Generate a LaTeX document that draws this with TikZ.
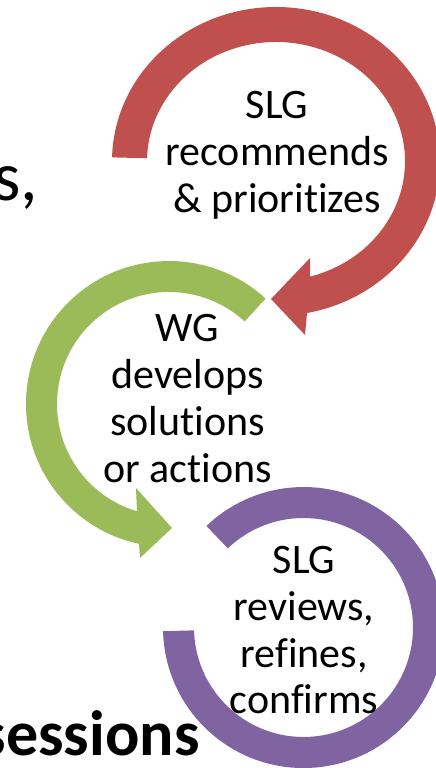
\documentclass[tikz,border=0pt]{standalone}
\usepackage{fontspec}
\setmainfont{Carlito}[Ligatures={NoCommon}]
\definecolor{arcred}{HTML}{C0504D}
\definecolor{arcgreen}{HTML}{9BBB59}
\definecolor{arcpurple}{HTML}{8064A2}
\begin{document}
\begin{tikzpicture}[x=1pt,y=1pt,
  lbl/.style={font=\fontsize{42}{47}\selectfont, inner sep=0pt, anchor=base},
  bgtext/.style={font=\fontsize{70}{80}\selectfont, inner sep=0pt, anchor=base west},
  bgbold/.style={font=\bfseries\fontsize{64}{72}\selectfont, inner sep=0pt, anchor=base west}]
\useasboundingbox (0,0) rectangle (436,-768);
\clip (0,0) rectangle (436,-768);
\fill[white] (0,0) rectangle (436,-768);

% background slide text
\node[bgtext] (bgs) at (-7,-200) {s,};
\node[bgbold] (bgsessions) at (-19.5,-755) {sessions};

% red circular arrow
\fill[arcred] (112.06,-157.36)
  arc[start angle=178.5, end angle=-79.1, x radius=164, y radius=154.4]
  -- (305,-335) -- (271,-299) -- (310,-258) -- (310.04,-276.57)
  arc[start angle=-74.7, end angle=178.5, x radius=129, y radius=119.4]
  -- cycle;

% green circular arrow
\fill[arcgreen] (265.6,-298.6)
  arc[start angle=47.5, end angle=257.9, radius=143]
  -- (140,-558) -- (172,-528) -- (136,-488) -- (137,-511.3)
  arc[start angle=253.4, end angle=47.5, radius=112]
  -- cycle;

% purple circular arc
\fill[arcpurple] (163.05,-631.2)
  arc[start angle=181.5, end angle=493.7, radius=140.5]
  -- (227.85,-548.33)
  arc[start angle=493.7, end angle=181.5, radius=109.5]
  -- cycle;

% texts
\node[lbl] (r1) at (277,-118) {SLG};
\node[lbl] (r2) at (277,-165) {recommends};
\node[lbl] (r3) at (277,-212) {\& prioritizes};

\node[lbl] (g1) at (187.5,-341.5) {WG};
\node[lbl] (g2) at (187.5,-388.5) {develops};
\node[lbl] (g3) at (187.5,-435.5) {solutions};
\node[lbl] (g4) at (187.5,-482.5) {or actions};

\node[lbl] (p1) at (304,-573) {SLG};
\node[lbl] (p2) at (304,-620) {reviews,};
\node[lbl] (p3) at (304,-667) {refines,};
\node[lbl] (p4) at (304,-713) {confirms};
\end{tikzpicture}
\end{document}
